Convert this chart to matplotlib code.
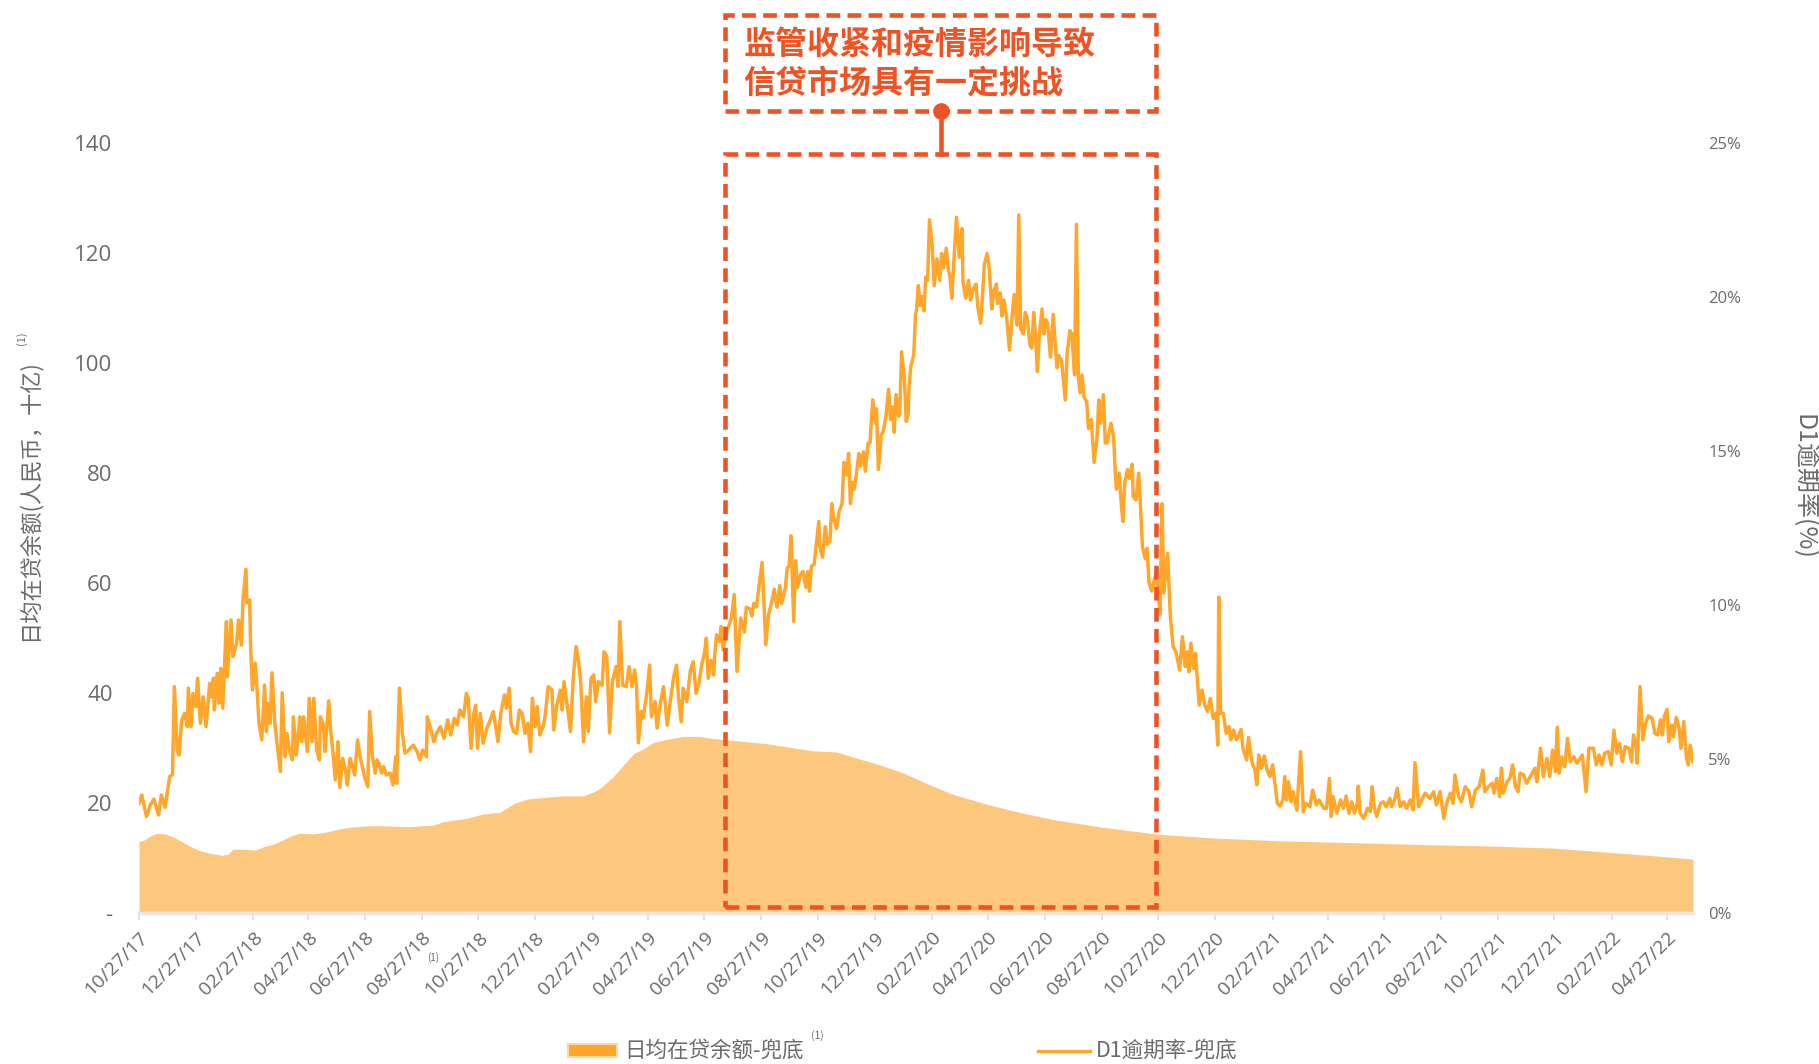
import datetime as dt
import numpy as np
import matplotlib.pyplot as plt
import matplotlib.transforms as mtransforms
from matplotlib.patches import Rectangle
from matplotlib.lines import Line2D

plt.rcParams['font.family'] = ['Noto Sans CJK SC', 'DejaVu Sans']

start = np.datetime64('2017-10-27')

## 日均在贷余额-兜底 (十亿人民币), x = days since 10/27/17
bal_day = [0, 6, 12, 19, 28, 37, 46, 55, 66, 76, 89, 96, 101, 112, 125, 134, 144, 155, 166, 173,
           187, 198, 213, 227, 241, 256, 270, 291, 317, 327, 352, 370, 388, 403, 417, 435, 456, 478,
           489, 496, 510, 521, 532, 542, 553, 568, 585, 603, 614, 625, 674, 724, 749, 773, 799, 824,
           849, 873, 911, 949, 986, 1036, 1087, 1098, 1159, 1231, 1302, 1388, 1449, 1521, 1575, 1629, 1671]
bal_val = [13.0, 13.3, 14.0, 14.5, 14.4, 13.8, 13.0, 12.1, 11.3, 10.85, 10.5, 10.7, 11.6, 11.6, 11.45,
           12.05, 12.5, 13.3, 14.2, 14.5, 14.4, 14.6, 15.2, 15.6, 15.8, 15.9, 15.8, 15.7, 16.0, 16.6,
           17.2, 18.0, 18.3, 19.9, 20.7, 21.0, 21.3, 21.3, 22.05, 22.7, 24.8, 26.9, 29.0, 29.8, 31.0,
           31.6, 32.1, 32.1, 31.8, 31.6, 30.8, 29.5, 29.3, 28.1, 26.8, 25.3, 23.4, 21.7, 19.8, 18.2,
           16.9, 15.6, 14.5, 14.3, 13.6, 13.1, 12.8, 12.4, 12.2, 11.8, 11.1, 10.4, 9.8]

## D1逾期率-兜底 (%), x = days since 10/27/17
rate_day = [0, 3, 8, 12, 16, 21, 24, 28, 33, 36, 38, 41, 43, 46, 49, 52, 53, 56, 58, 61, 63, 66, 69, 72,
            76, 78, 80, 81, 84, 86, 88, 90, 94, 95, 99, 101, 105, 107, 110, 112, 115, 116, 119, 120, 122,
            125, 127, 129, 132, 135, 137, 139, 141, 143, 146, 148, 152, 154, 157, 159, 162, 165, 166, 169,
            171, 173, 175, 177, 181, 183, 186, 188, 191, 194, 195, 198, 200, 204, 206, 209, 211, 213, 214,
            216, 219, 222, 224, 227, 230, 232, 235, 238, 241, 243, 246, 248, 251, 254, 256, 258, 261, 263,
            266, 270, 273, 276, 277, 280, 283, 286, 290, 295, 299, 302, 305, 309, 310, 313, 317, 320, 324,
            328, 332, 335, 339, 342, 345, 349, 352, 354, 357, 360, 362, 364, 367, 370, 374, 377, 381, 386,
            389, 393, 395, 398, 400, 403, 406, 409, 412, 415, 418, 421, 423, 426, 428, 431, 435, 437, 440,
            444, 446, 449, 453, 455, 457, 460, 464, 467, 470, 472, 475, 478, 481, 483, 486, 489, 491, 494,
            498, 500, 503, 506, 509, 513, 515, 517, 520, 524, 527, 530, 533, 535, 537, 540, 542, 546, 549,
            551, 555, 557, 560, 564, 568, 571, 575, 578, 580, 583, 585, 589, 593, 596, 599, 602, 605, 608,
            610, 612, 615, 618, 619, 621, 624, 626, 628, 632, 637, 640, 643, 647, 651, 653, 657, 659, 661,
            664, 667, 670, 674, 677, 680, 683, 686, 689, 691, 695, 697, 699, 701, 704, 706, 708, 711, 714,
            717, 719, 721, 723, 726, 728, 731, 732, 735, 738, 740, 743, 745, 747, 750, 753, 756, 758, 761,
            763, 765, 767, 769, 772, 774, 776, 779, 781, 784, 786, 789, 792, 793, 795, 798, 800, 803, 806,
            808, 810, 812, 814, 817, 818, 820, 823, 825, 827, 828, 830, 833, 835, 836, 838, 840, 842, 844,
            846, 848, 850, 853, 855, 858, 861, 863, 865, 868, 870, 872, 874, 876, 879, 882, 885, 886, 889,
            892, 894, 897, 900, 902, 905, 907, 909, 912, 914, 917, 919, 922, 923, 926, 928, 930, 933, 936,
            939, 941, 944, 946, 948, 951, 953, 955, 958, 960, 962, 964, 966, 968, 971, 973, 975, 977, 980,
            983, 985, 987, 989, 992, 996, 998, 1001, 1003, 1006, 1008, 1010, 1012, 1014, 1016, 1019, 1021,
            1024, 1027, 1030, 1032, 1034, 1037, 1039, 1041, 1045, 1048, 1050, 1051, 1054, 1056, 1058, 1060,
            1063, 1065, 1068, 1069, 1072, 1075, 1077, 1079, 1082, 1084, 1086, 1089, 1092, 1094, 1096, 1098,
            1100, 1102, 1106, 1109, 1112, 1115, 1119, 1122, 1125, 1127, 1129, 1131, 1134, 1136, 1140, 1143,
            1146, 1149, 1152, 1155, 1158, 1160, 1161, 1163, 1166, 1169, 1172, 1174, 1177, 1180, 1182, 1185,
            1187, 1191, 1193, 1197, 1200, 1202, 1204, 1207, 1210, 1213, 1216, 1219, 1221, 1224, 1227, 1230,
            1232, 1234, 1236, 1239, 1241, 1245, 1249, 1252, 1255, 1259, 1262, 1266, 1269, 1274, 1277, 1280,
            1282, 1284, 1288, 1292, 1295, 1298, 1301, 1304, 1307, 1310, 1311, 1313, 1317, 1321, 1324, 1326,
            1328, 1331, 1335, 1338, 1341, 1345, 1347, 1350, 1353, 1356, 1360, 1363, 1367, 1370, 1372, 1376,
            1380, 1383, 1388, 1392, 1395, 1399, 1403, 1406, 1410, 1413, 1415, 1419, 1422, 1426, 1430, 1433,
            1437, 1441, 1445, 1447, 1451, 1455, 1457, 1460, 1463, 1465, 1467, 1471, 1474, 1477, 1480, 1483,
            1485, 1489, 1492, 1496, 1501, 1503, 1507, 1510, 1514, 1517, 1520, 1523, 1525, 1527, 1530, 1533,
            1536, 1539, 1543, 1546, 1552, 1554, 1556, 1559, 1564, 1567, 1570, 1573, 1576, 1580, 1583, 1586,
            1589, 1592, 1595, 1598, 1602, 1605, 1607, 1610, 1611, 1614, 1617, 1620, 1623, 1627, 1630, 1633,
            1636, 1638, 1640, 1643, 1645, 1648, 1650, 1653, 1656, 1658, 1661, 1664, 1666, 1668, 1671]
rate_val = [3.56, 3.83, 3.13, 3.50, 3.70, 3.18, 3.83, 3.43, 4.43, 4.49, 7.35, 5.29, 5.13, 6.27, 6.48, 6.05,
            7.30, 6.05, 7.13, 6.70, 7.62, 6.16, 7.02, 6.05, 7.46, 7.02, 7.62, 6.59, 7.78, 6.81, 7.94, 6.65,
            9.46, 7.67, 9.51, 8.32, 8.76, 9.51, 8.70, 10.27, 11.16, 10.06, 10.16, 8.65, 7.24, 8.11, 7.24,
            6.16, 5.62, 7.40, 5.89, 6.81, 6.16, 7.80, 6.16, 5.62, 4.59, 7.15, 5.07, 5.83, 5.24, 4.97, 6.37,
            5.13, 5.72, 6.37, 5.56, 6.37, 5.24, 6.97, 5.56, 6.97, 5.29, 4.97, 6.37, 6.16, 5.24, 6.89, 5.94,
            5.07, 4.32, 5.07, 5.56, 4.08, 5.02, 4.64, 4.16, 5.02, 4.70, 4.48, 5.62, 5.02, 4.64, 4.37, 4.10,
            6.54, 5.07, 4.54, 4.97, 4.86, 4.54, 4.75, 4.48, 4.54, 4.16, 5.07, 4.21, 7.30, 5.89, 5.19, 5.29,
            5.45, 5.24, 4.97, 5.29, 5.07, 6.37, 6.05, 5.56, 5.83, 6.05, 5.67, 6.27, 5.78, 6.32, 6.10, 6.59,
            6.37, 7.13, 6.97, 5.35, 6.48, 6.75, 5.35, 6.48, 5.51, 6.00, 6.21, 6.54, 5.56, 6.48, 7.08, 6.65,
            7.30, 6.16, 5.89, 5.83, 6.59, 6.48, 5.83, 6.16, 5.24, 6.97, 6.05, 6.70, 5.78, 6.10, 6.48, 7.35,
            7.24, 5.94, 6.70, 7.24, 6.59, 7.51, 6.81, 5.89, 7.67, 8.65, 8.32, 7.46, 5.56, 7.02, 5.89, 7.62,
            7.73, 6.86, 7.51, 7.40, 8.48, 8.32, 5.85, 7.51, 8.00, 7.35, 9.46, 7.40, 7.35, 8.00, 7.35, 7.89,
            7.35, 5.53, 6.54, 6.32, 7.13, 8.05, 6.37, 6.86, 6.00, 6.70, 7.35, 6.10, 6.81, 7.67, 8.05, 7.02,
            6.21, 7.30, 6.86, 7.89, 8.16, 7.13, 7.46, 8.05, 8.43, 8.92, 7.62, 8.21, 7.73, 8.32, 9.03, 8.81,
            9.30, 8.54, 9.12, 9.58, 10.34, 7.84, 9.58, 9.12, 9.93, 9.87, 9.64, 10.05, 9.93, 10.69, 11.38,
            8.71, 9.70, 10.05, 10.51, 9.93, 10.63, 10.05, 10.57, 11.20, 11.26, 12.25, 9.47, 11.44, 10.57,
            10.97, 11.09, 10.57, 11.09, 10.45, 11.26, 11.32, 11.90, 12.71, 11.90, 11.55, 12.54, 11.97, 12.08,
            13.29, 12.83, 12.48, 13.06, 13.29, 14.63, 14.22, 14.92, 13.29, 13.99, 13.76, 14.40, 14.92, 14.51,
            14.97, 14.34, 15.26, 15.26, 16.66, 15.90, 16.37, 14.40, 15.50, 15.61, 16.07, 17.00, 16.02, 16.43,
            15.61, 16.83, 16.13, 16.19, 18.22, 17.35, 15.96, 16.19, 17.12, 17.76, 18.10, 19.44, 19.55, 20.37,
            19.73, 20.02, 19.55, 20.65, 20.54, 22.51, 21.64, 20.37, 21.24, 20.54, 21.41, 20.94, 21.58, 20.94,
            20.65, 19.96, 21.06, 22.59, 21.29, 22.22, 20.48, 19.96, 20.54, 19.90, 20.25, 20.42, 19.67, 19.15,
            20.02, 21.06, 21.41, 21.00, 19.61, 20.19, 20.42, 19.79, 20.13, 19.38, 19.90, 19.32, 18.28, 19.44,
            20.08, 19.09, 22.66, 18.97, 18.80, 19.50, 19.32, 18.45, 18.34, 19.50, 18.74, 17.58, 18.74, 19.61,
            18.80, 19.27, 19.15, 18.05, 19.44, 18.57, 17.70, 18.10, 17.93, 16.66, 18.16, 18.91, 18.80, 17.47,
            22.36, 17.41, 16.89, 17.47, 16.77, 16.60, 15.73, 16.02, 14.63, 15.38, 16.66, 15.90, 16.83, 15.26,
            15.26, 15.90, 15.44, 14.16, 13.76, 14.28, 13.35, 12.71, 13.99, 14.40, 14.11, 14.57, 13.53, 13.41,
            14.28, 13.06, 11.90, 11.50, 11.84, 10.74, 10.45, 10.86, 10.97, 10.39, 9.70, 13.29, 10.39, 11.68,
            9.62, 8.65, 8.48, 7.89, 8.97, 8.00, 8.48, 7.83, 8.76, 7.94, 8.43, 6.75, 7.24, 6.75, 6.54, 6.97,
            6.32, 6.48, 5.45, 10.25, 6.48, 6.48, 5.83, 6.05, 5.62, 5.94, 5.62, 5.72, 5.96, 5.35, 4.97, 5.70,
            4.86, 4.64, 4.16, 5.13, 4.70, 5.10, 4.64, 4.43, 4.81, 4.32, 3.56, 3.47, 3.67, 4.43, 3.67, 4.26,
            3.61, 3.94, 3.34, 5.24, 3.29, 3.56, 3.45, 3.99, 3.51, 3.67, 3.40, 3.40, 4.37, 3.13, 3.78, 3.24,
            3.67, 3.40, 3.80, 3.24, 3.61, 3.24, 3.56, 4.12, 3.24, 3.07, 3.40, 3.29, 4.10, 3.45, 3.13, 3.56,
            3.61, 3.45, 3.72, 3.45, 3.67, 4.05, 3.45, 3.61, 3.40, 3.67, 3.34, 4.88, 3.45, 3.72, 3.89, 3.72,
            3.94, 3.51, 3.94, 3.07, 3.56, 3.89, 3.56, 4.48, 3.78, 3.61, 4.10, 3.94, 3.45, 3.99, 4.10, 4.64,
            3.94, 4.10, 4.21, 3.89, 4.37, 3.78, 4.70, 3.89, 4.26, 4.37, 4.81, 4.10, 3.94, 4.54, 4.48, 4.21,
            4.43, 4.70, 4.26, 5.35, 4.43, 5.02, 4.43, 5.29, 4.59, 6.03, 4.54, 5.07, 4.75, 5.67, 4.91, 5.07,
            4.86, 5.13, 4.54, 3.94, 5.35, 5.35, 4.81, 5.13, 4.81, 5.19, 5.24, 4.81, 5.94, 5.19, 5.51, 4.91,
            5.40, 5.35, 4.91, 5.78, 5.45, 4.86, 7.35, 5.62, 6.16, 6.40, 6.32, 5.83, 5.78, 6.27, 5.78, 6.37,
            6.61, 5.56, 6.10, 5.72, 6.35, 6.00, 5.35, 6.21, 5.02, 4.81, 5.45, 4.91]

tick_labels = ['10/27/17', '12/27/17', '02/27/18', '04/27/18', '06/27/18', '08/27/18', '10/27/18',
               '12/27/18', '02/27/19', '04/27/19', '06/27/19', '08/27/19', '10/27/19', '12/27/19',
               '02/27/20', '04/27/20', '06/27/20', '08/27/20', '10/27/20', '12/27/20', '02/27/21',
               '04/27/21', '06/27/21', '08/27/21', '10/27/21', '12/27/21', '02/27/22', '04/27/22']
left_ticks = [0, 20, 40, 60, 80, 100, 120, 140]
left_labels = ['-', '20', '40', '60', '80', '100', '120', '140']
right_ticks = [0, 5, 10, 15, 20, 25]

## periodo destacado
box_start, box_end = '2019-07-19', '2020-10-25'
note = ['监管收紧和疫情影响导致', '信贷市场具有一定挑战']

bal_x = start + np.array(bal_day)
rate_x = start + np.array(rate_day)
tick_x = [np.datetime64(dt.datetime.strptime(t, '%m/%d/%y').date()) for t in tick_labels]

gray = '#6b6b6b'
red = '#EF5323'
line_c = '#FFA62B'
area_c = '#FEC77E'

fig = plt.figure(figsize=(18.19, 10.64), dpi=100)
ax = fig.add_axes([0.07642, 0.14192, 0.85432, 0.72368])
ax2 = ax.twinx()

ax.fill_between(bal_x, bal_val, color=area_c, lw=0, zorder=1)
ax2.plot(rate_x, rate_val, color=line_c, lw=2.5, zorder=2)

ax.set_xlim(bal_x[0], bal_x[-1])
ax.set_ylim(0, 140)
ax2.set_ylim(0, 25)

ax.set_yticks(left_ticks)
ax.set_yticklabels(left_labels, family='Open Sans', fontsize=16, color=gray)
ax2.set_yticks(right_ticks)
ax2.set_yticklabels([f'{v}%' for v in right_ticks], family='Open Sans', fontsize=12, color=gray)
ax.tick_params(axis='y', length=0, pad=19)
ax2.tick_params(axis='y', length=0, pad=11)

ax.set_xticks(tick_x)
ax.set_xticklabels(tick_labels, rotation=45, ha='right', rotation_mode='anchor',
                   family='Open Sans', fontsize=14, color=gray)
ax.tick_params(axis='x', length=5, color='#dddddd', width=1.2, pad=6)

for a in (ax, ax2):
    for s in ['top', 'left', 'right']:
        a.spines[s].set_visible(False)
    a.spines['bottom'].set_color('#f0e6dc')
    a.spines['bottom'].set_linewidth(2.5)

# caixas tracejadas
dash = (0, (3, 1.6))
b0, b1 = np.datetime64(box_start), np.datetime64(box_end)
ax2.add_patch(Rectangle((b0, 0.2), b1 - b0, 24.45, fill=False, ec=red, lw=3.3,
                        ls=dash, zorder=5, clip_on=False))
tr = mtransforms.blended_transform_factory(ax2.transData, ax2.transAxes)
ax2.add_patch(Rectangle((b0, 1.0416), b1 - b0, 0.1246, fill=False, ec=red, lw=3.3,
                        ls=dash, transform=tr, zorder=5, clip_on=False))
mid = b0 + (b1 - b0) / 2
ax2.plot([mid, mid], [0.9857, 1.0416], color=red, lw=3.3, transform=tr, clip_on=False, zorder=6)
ax2.plot([mid], [1.0416], 'o', color=red, ms=11, transform=tr, clip_on=False, zorder=6)
ax2.text(b0 + np.timedelta64(20, 'D'), 1.128, note[0], transform=tr, color=red, fontsize=23,
         fontweight='bold', va='center', ha='left')
ax2.text(b0 + np.timedelta64(20, 'D'), 1.0775, note[1], transform=tr, color=red, fontsize=23,
         fontweight='bold', va='center', ha='left')

# rotulos dos eixos
fig.text(29 / 1819, 1 - 500 / 1064, '日均在贷余额(人民币，十亿)', rotation=90, ha='center',
         va='center', fontsize=16, color=gray)
fig.text(22 / 1819, 1 - 338 / 1064, '(1)', rotation=90, ha='center', va='center',
         fontsize=8, color=gray)
fig.text(1804 / 1819, 1 - 487 / 1064, 'D1逾期率(%)', rotation=270, ha='center', va='center',
         fontsize=18, color=gray)
fig.text(433 / 1819, 1 - 958 / 1064, '(1)', ha='center', va='center', fontsize=7, color=gray)

# legenda
ly = 1 - 1051 / 1064
fig.patches.append(Rectangle((568 / 1819, ly - 6 / 1064), 49 / 1819, 13 / 1064,
                             fc='#FFA62B', ec='#FFD6A0', lw=1.5, transform=fig.transFigure))
fig.text(624 / 1819, ly, '日均在贷余额-兜底', ha='left', va='center', fontsize=15.5, color=gray)
fig.text(817 / 1819, 1 - 1036 / 1064, '(1)', ha='center', va='center', fontsize=7.5, color=gray)
fig.lines.append(Line2D([1038 / 1819, 1090 / 1819], [ly, ly], color=line_c, lw=2.4,
                        transform=fig.transFigure))
fig.text(1096 / 1819, ly, 'D1逾期率-兜底', ha='left', va='center', fontsize=15.5, color=gray)

fig.savefig('out.png', dpi=100)
